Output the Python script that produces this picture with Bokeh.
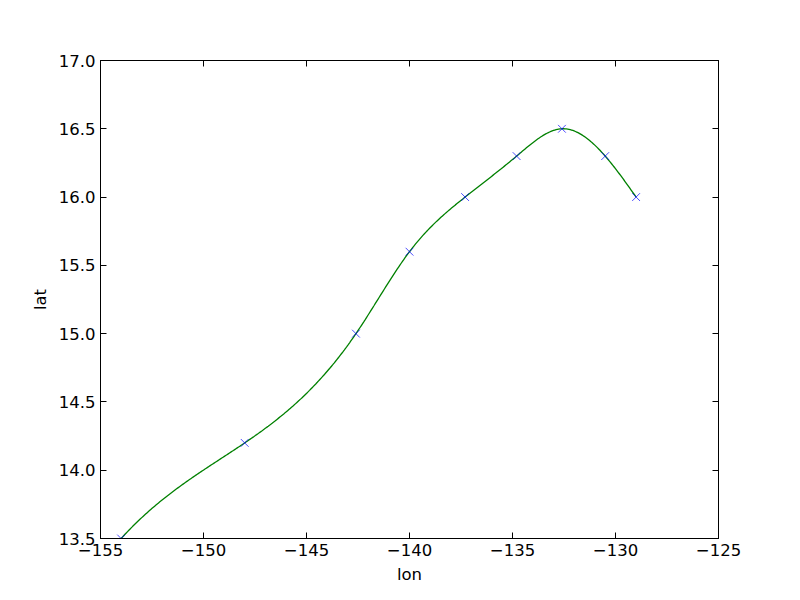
import numpy as np
from bokeh.plotting import figure
from bokeh.models import LinearAxis, FixedTicker, Range1d
from bokeh.embed import file_html
from bokeh.resources import INLINE

# data
lon = [-154.0, -148.0, -142.6, -140.0, -137.3, -134.8, -132.6, -130.5, -129.0]
lat = [13.5, 14.2, 15.0, 15.6, 16.0, 16.3, 16.5, 16.3, 16.0]
x_ticks = [-155, -150, -145, -140, -135, -130, -125]
x_tick_labels = ["\u2212155", "\u2212150", "\u2212145", "\u2212140", "\u2212135", "\u2212130", "\u2212125"]
y_ticks = [13.5, 14.0, 14.5, 15.0, 15.5, 16.0, 16.5, 17.0]
y_tick_labels = ["13.5", "14.0", "14.5", "15.0", "15.5", "16.0", "16.5", "17.0"]


def cubic_spline_not_a_knot(x, y, xs):
    x = np.asarray(x, float)
    y = np.asarray(y, float)
    n = len(x)
    h = np.diff(x)
    A = np.zeros((n, n))
    r = np.zeros(n)
    for i in range(1, n - 1):
        A[i, i - 1] = h[i - 1]
        A[i, i] = 2 * (h[i - 1] + h[i])
        A[i, i + 1] = h[i]
        r[i] = 6 * ((y[i + 1] - y[i]) / h[i] - (y[i] - y[i - 1]) / h[i - 1])
    # not-a-knot conditions
    A[0, 0] = h[1]
    A[0, 1] = -(h[0] + h[1])
    A[0, 2] = h[0]
    A[-1, -3] = h[-1]
    A[-1, -2] = -(h[-2] + h[-1])
    A[-1, -1] = h[-2]
    M = np.linalg.solve(A, r)
    out = np.empty_like(xs)
    for k, xv in enumerate(xs):
        i = min(max(np.searchsorted(x, xv) - 1, 0), n - 2)
        t0 = x[i + 1] - xv
        t1 = xv - x[i]
        out[k] = (M[i] * t0 ** 3 + M[i + 1] * t1 ** 3) / (6 * h[i]) \
            + (y[i] / h[i] - M[i] * h[i] / 6) * t0 \
            + (y[i + 1] / h[i] - M[i + 1] * h[i] / 6) * t1
    return out


xs = np.linspace(lon[0], lon[-1], 400)
ys = cubic_spline_not_a_knot(lon, lat, xs)

FONT = "DejaVu Sans"
FS = "16.5px"

p = figure(
    output_backend="svg",
    toolbar_location=None,
    width=784,
    height=584,
    frame_width=618,
    frame_height=478,
    min_border_left=100,
    min_border_top=60,
    min_border_right=66,
    min_border_bottom=46,
    x_range=Range1d(-155, -125),
    y_range=Range1d(13.5, 17.0),
    x_axis_location=None,
    y_axis_location=None,
)
p.grid.visible = False
p.outline_line_color = "black"
p.outline_line_width = 1
p.background_fill_color = "white"
p.border_fill_color = "white"


def make_axis(ticks, labels, show_labels, axis_label=None):
    ax = LinearAxis(ticker=FixedTicker(ticks=ticks))
    ax.major_label_overrides = {t: l for t, l in zip(ticks, labels)}
    ax.major_tick_in = 6
    ax.major_tick_out = 0
    ax.minor_tick_line_color = None
    ax.axis_line_color = "black"
    ax.major_tick_line_color = "black"
    ax.major_label_text_font = FONT
    ax.major_label_text_font_size = FS
    ax.major_label_text_color = "black"
    ax.major_label_standoff = 5
    if not show_labels:
        ax.major_label_text_color = None
        ax.major_label_text_font_size = "0px"
    if axis_label:
        ax.axis_label = axis_label
        ax.axis_label_text_font = FONT
        ax.axis_label_text_font_size = FS
        ax.axis_label_text_font_style = "normal"
        ax.axis_label_text_color = "black"
        ax.axis_label_standoff = 6
    return ax


p.add_layout(make_axis(x_ticks, x_tick_labels, True, "lon"), "below")
p.add_layout(make_axis(y_ticks, y_tick_labels, True, "lat"), "left")
p.add_layout(make_axis(x_ticks, x_tick_labels, False), "above")
p.add_layout(make_axis(y_ticks, y_tick_labels, False), "right")

p.line(xs, ys, line_color="#008000", line_width=1.3)
p.scatter(lon, lat, marker="x", size=11, line_color="#0000ff", line_width=0.7)

open("out.html", "w").write(file_html(p, INLINE))
